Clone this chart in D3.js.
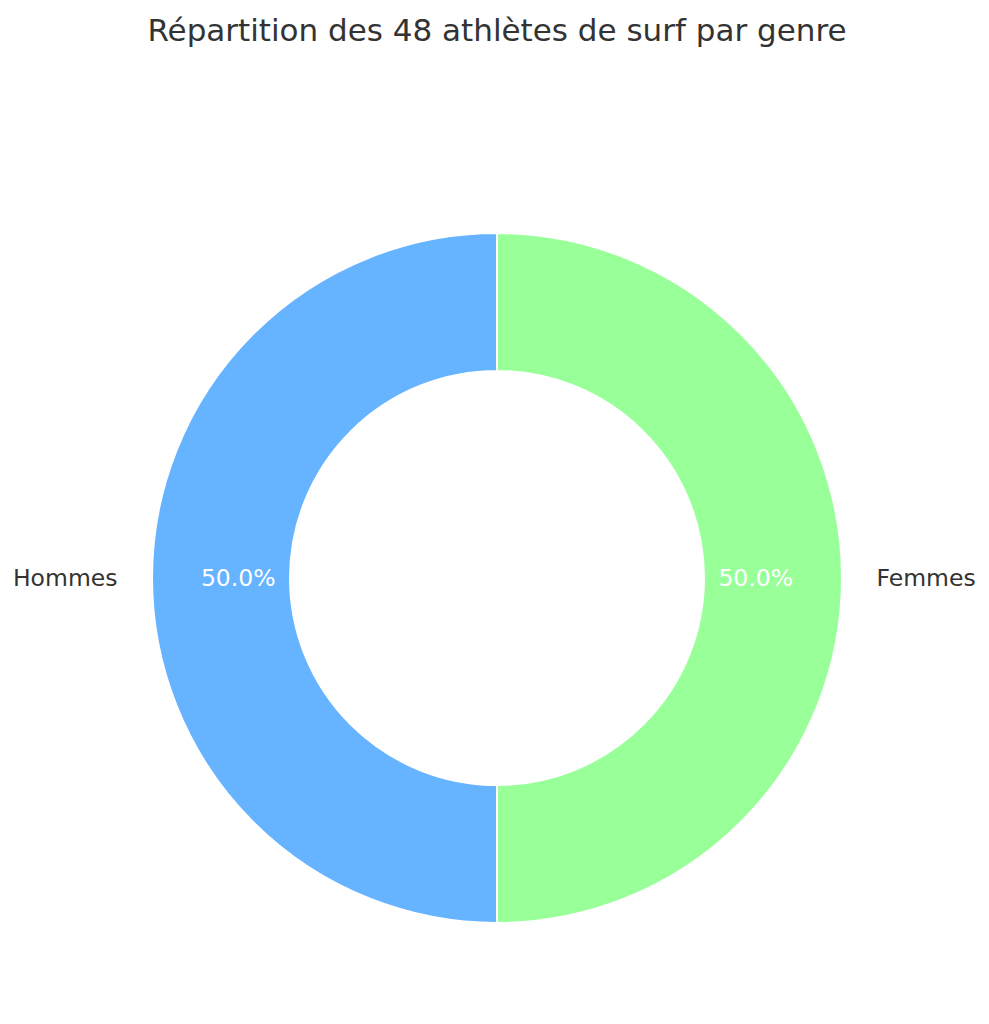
<!DOCTYPE html>
<html>
<head>
<meta charset="utf-8">
<script src="https://cdn.jsdelivr.net/npm/d3@7"></script>
<style>
  body { margin: 0; background: #fff; }
  svg { display: block; font-family: "DejaVu Sans", sans-serif; }
</style>
</head>
<body>
<svg id="chart" width="989" height="1024"></svg>
<script>
// data
const labels = ["Hommes", "Femmes"];
const counts = [24, 24];
const colors = ["#66b3ff", "#99ff99"];

const width = 989, height = 1024;
const cx = 497, cy = 578;
const outerR = 345;
const innerR = outerR * 0.6;

const svg = d3.select("#chart");

svg.append("text")
  .attr("x", cx)
  .attr("y", 30)
  .attr("text-anchor", "middle")
  .attr("dominant-baseline", "central")
  .style("font-size", "31px")
  .style("fill", "#333")
  .text("Répartition des 48 athlètes de surf par genre");

const data = labels.map((l, i) => ({ label: l, value: counts[i], color: colors[i] }));

// matplotlib style: start at top, going counter-clockwise
const pie = d3.pie()
  .value(d => d.value)
  .sort(null)
  .startAngle(0)
  .endAngle(-2 * Math.PI);

const arcs = pie(data);
const arc = d3.arc().innerRadius(innerR).outerRadius(outerR);

const g = svg.append("g").attr("transform", `translate(${cx},${cy})`);

g.selectAll("path.slice")
  .data(arcs)
  .join("path")
  .attr("class", "slice")
  .attr("d", arc)
  .attr("fill", d => d.data.color)
  .attr("stroke", "#fff")
  .attr("stroke-width", 2);

const total = d3.sum(counts);
const mid = d => (d.startAngle + d.endAngle) / 2;

// category labels outside
g.selectAll("text.label")
  .data(arcs)
  .join("text")
  .attr("class", "label")
  .attr("x", d => Math.sin(mid(d)) * outerR * 1.1)
  .attr("y", d => -Math.cos(mid(d)) * outerR * 1.1)
  .attr("text-anchor", d => Math.sin(mid(d)) < 0 ? "end" : "start")
  .attr("dominant-baseline", "central")
  .style("font-size", "23.5px")
  .style("fill", "#333")
  .text(d => d.data.label);

// percent labels
g.selectAll("text.pct")
  .data(arcs)
  .join("text")
  .attr("class", "pct")
  .attr("x", d => Math.sin(mid(d)) * outerR * 0.75)
  .attr("y", d => -Math.cos(mid(d)) * outerR * 0.75)
  .attr("text-anchor", "middle")
  .attr("dominant-baseline", "central")
  .style("font-size", "23.5px")
  .style("fill", "#fff")
  .text(d => (d.data.value / total * 100).toFixed(1) + "%");
</script>
</body>
</html>
